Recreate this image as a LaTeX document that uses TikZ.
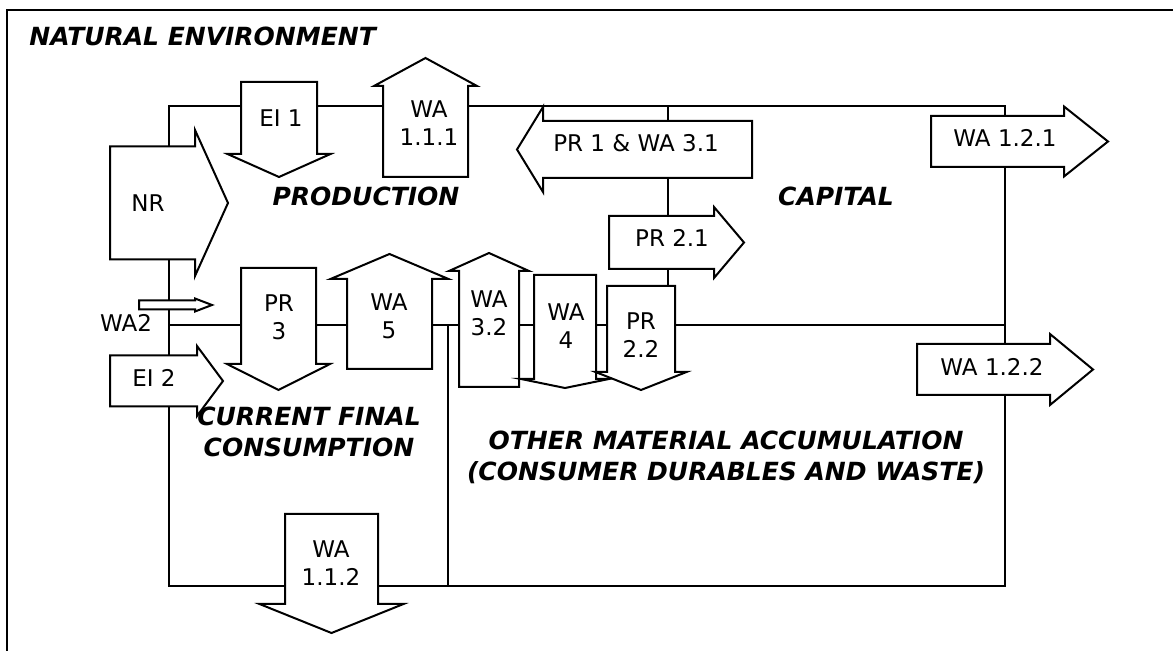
\documentclass[tikz,border=0pt]{standalone}
\usepackage{fontspec}
\setmainfont{DejaVu Sans}[ItalicFont={DejaVu Sans Oblique},BoldItalicFont={DejaVu Sans Bold Oblique}]
\usepackage{tikz}

% block arrows: tail, head base, tip, centre line, half body, half head
\newcommand{\blkarrowh}[6]{%
  \filldraw[blk] (#1,#4-#5) -- (#2,#4-#5) -- (#2,#4-#6) -- (#3,#4) -- (#2,#4+#6) -- (#2,#4+#5) -- (#1,#4+#5) -- cycle;}
\newcommand{\blkarrowv}[6]{%
  \filldraw[blk] (#1-#5,#2) -- (#1-#5,#3) -- (#1-#6,#3) -- (#1,#4) -- (#1+#6,#3) -- (#1+#5,#3) -- (#1+#5,#2) -- cycle;}

\begin{document}
\begin{tikzpicture}[x=0.5pt,y=-0.5pt,
  ln/.style={line width=1pt},
  blk/.style={line width=1pt,fill=white,line join=miter},
  lbl/.style={font=\fontsize{11.5}{14}\selectfont,align=center,inner sep=0pt},
  sector/.style={font=\fontsize{12.5}{15.5}\selectfont\bfseries\itshape,align=center,inner sep=0pt}]
\useasboundingbox (0,0) rectangle (1173,651);

%frame of the natural environment
\coordinate (envne) at (1173,10);
\coordinate (envnw) at (7,10);
\coordinate (envsw) at (7,651);
\draw[ln] (envne) -- (envnw) -- (envsw);
\node[sector,anchor=base west] (env) at(29,46){NATURAL ENVIRONMENT};

%economy box
\coordinate (boxnw) at (169,106);
\coordinate (boxse) at (1005,586);
\coordinate (midw) at (169,325);
\coordinate (mide) at (1005,325);
\coordinate (capn) at (668,106);
\coordinate (caps) at (668,325);
\coordinate (accn) at (448,325);
\coordinate (accs) at (448,586);
\draw[ln] (boxnw) rectangle (boxse);
\draw[ln] (midw) -- (mide);
\draw[ln] (capn) -- (caps);
\draw[ln] (accn) -- (accs);

\node[sector,anchor=base] (prod) at(366,206){PRODUCTION};
\node[sector,anchor=base] (cap) at(836,206){CAPITAL};
\node[sector] (cons) at(309,432){CURRENT FINAL\\CONSUMPTION};
\node[sector] (acc) at(726,457){OTHER MATERIAL ACCUMULATION\\(CONSUMER DURABLES AND WASTE)};

%flows across the boundary
\blkarrowh{110}{195}{228}{203}{56.5}{73}
\node[lbl] (nr) at(148,203){NR};
\blkarrowv{279}{82}{154}{177}{38}{51.5}
\node[lbl] (ei1) at(281,118){EI 1};
\blkarrowv{425.5}{177}{86}{58}{42.5}{51.5}
\node[lbl] (wa111) at(429,123){WA\\1.1.1};
\blkarrowh{752}{543}{517}{149.5}{28.5}{42.5}
\node[lbl] (pr1) at(636,143){PR 1 \& WA 3.1};
\blkarrowh{609}{714}{744}{242.5}{26.5}{35.5}
\node[lbl] (pr21) at(672,238){PR 2.1};
\blkarrowh{931}{1064}{1108}{141.5}{25.5}{35}
\node[lbl] (wa121) at(1005,138){WA 1.2.1};
\blkarrowh{917}{1050}{1093}{369.5}{25.5}{35.5}
\node[lbl] (wa122) at(992,367){WA 1.2.2};
\blkarrowh{139}{195}{212}{305}{4.5}{6.5}
\node[lbl] (wa2) at(126,323){WA2};
\blkarrowh{110}{197}{223}{381}{25.5}{35}
\node[lbl] (ei2) at(154,378){EI 2};
\blkarrowv{278.5}{268}{364}{390}{37.5}{51.5}
\node[lbl] (pr3) at(279,317){PR\\3};
\blkarrowv{389.5}{369}{279}{254}{42.5}{59}
\node[lbl] (wa5) at(389,316){WA\\5};
\blkarrowv{489}{387}{271}{253}{30}{40}
\node[lbl] (wa32) at(489,313){WA\\3.2};
\blkarrowv{565}{275}{379}{388}{31}{44}
\node[lbl] (wa4) at(566,326){WA\\4};
\blkarrowv{641}{286}{372}{390}{34}{45.5}
\node[lbl] (pr22) at(641,335){PR\\2.2};
\blkarrowv{331.5}{514}{604}{633}{46.5}{72}
\node[lbl] (wa112) at(331,563){WA\\1.1.2};

\end{tikzpicture}
\end{document}
